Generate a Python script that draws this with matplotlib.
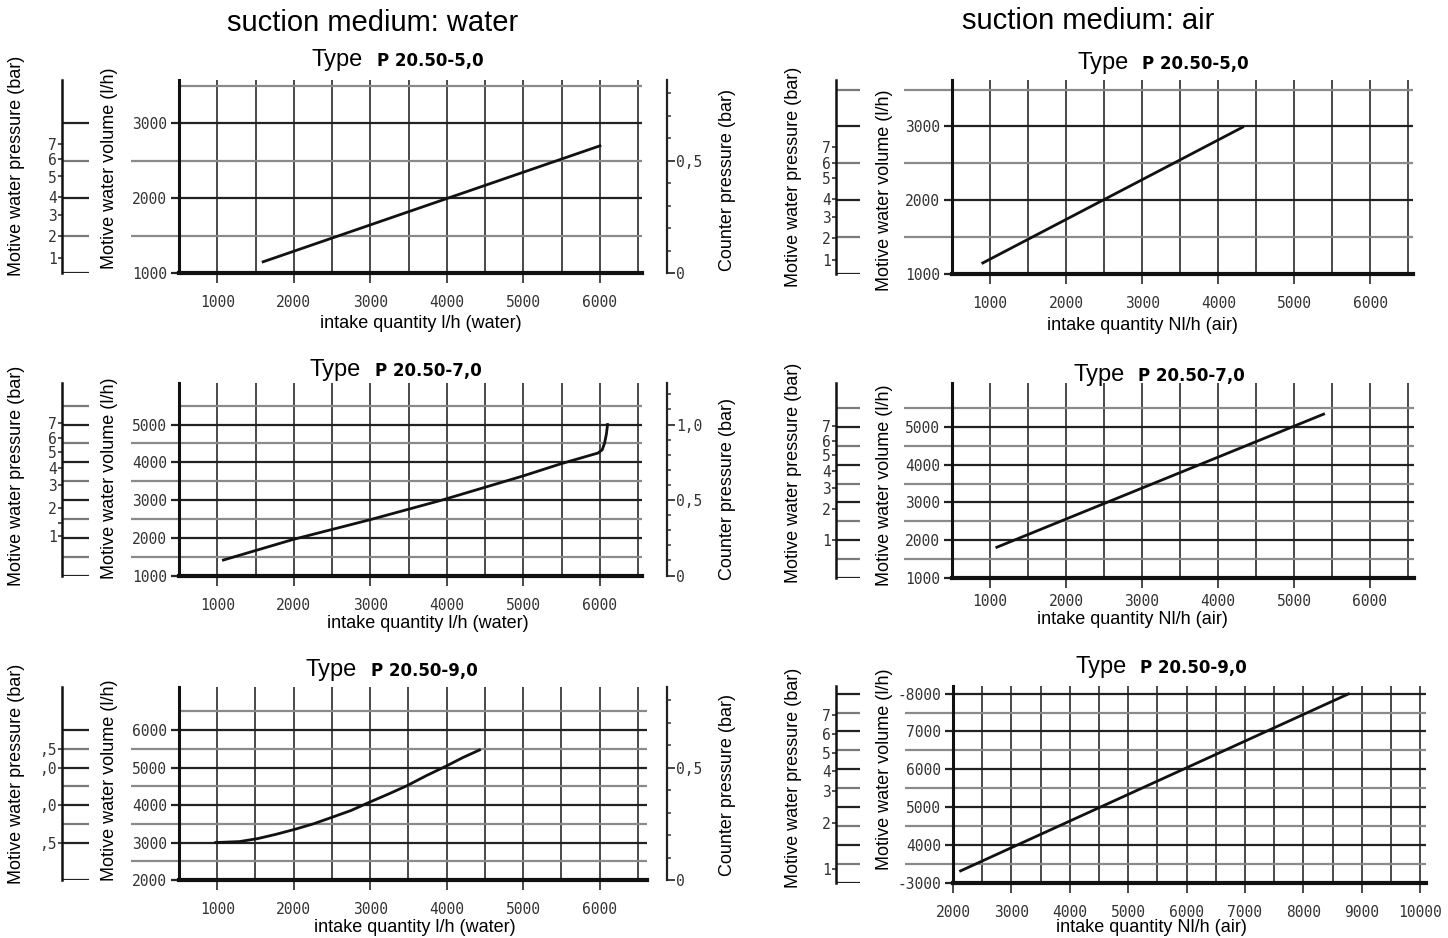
import matplotlib
matplotlib.use("Agg")
import matplotlib.pyplot as plt
import numpy as np
from matplotlib.ticker import FixedLocator

plt.rcParams['font.family'] = ['Liberation Sans', 'DejaVu Sans']

# ---------------------------------------------------------------- data
medium_titles = ["suction medium: water", "suction medium: air"]
type_names = ["P 20.50-5,0", "P 20.50-7,0", "P 20.50-9,0"]
xlabel_water = "intake quantity l/h (water)"
xlabel_air = "intake quantity Nl/h (air)"
label_pressure = "Motive water pressure (bar)"
label_volume = "Motive water volume (l/h)"
label_counter = "Counter pressure (bar)"

# curves: intake quantity vs motive water volume (l/h)
water5_intake = [1600, 6000]
water5_volume = [1150, 2700]
water7_intake = [1080, 2000, 3000, 3940, 5000, 5490, 5975, 6030, 6060, 6085, 6100]
water7_volume = [1410, 1960, 2480, 3000, 3640, 3960, 4245, 4330, 4500, 4750, 5000]
water9_intake = [980, 1290, 1530, 1770, 2010, 2260, 2510, 2750, 2990, 3240,
                 3480, 3730, 4000, 4210, 4430]
water9_volume = [3000, 3025, 3105, 3220, 3350, 3500, 3680, 3855, 4075, 4295,
                 4515, 4780, 5045, 5265, 5470]
air5_intake = [905, 4320]
air5_volume = [1150, 2990]
air7_intake = [1090, 5390]
air7_volume = [1815, 5340]
air9_intake = [2130, 8770]
air9_volume = [3320, 7990]

# x ticks
water_xticks = [1000, 2000, 3000, 4000, 5000, 6000]
air_xticks = [1000, 2000, 3000, 4000, 5000, 6000]
air9_xticks = [2000, 3000, 4000, 5000, 6000, 7000, 8000, 9000, 10000]

# y ticks (motive water volume)
vol5_yticks = [1000, 2000, 3000]
vol7_yticks = [1000, 2000, 3000, 4000, 5000]
water9_yticks = [2000, 3000, 4000, 5000, 6000]
air9_yticks = [3000, 4000, 5000, 6000, 7000, 8000]
air9_yticklabels = ["-3000", "4000", "5000", "6000", "7000", "-8000"]

# motive water pressure scales (label, position on volume scale)
pressure_labels = ["1", "2", "3", "4", "5", "6", "7"]
p5_water_pos = [1200, 1490, 1770, 2020, 2290, 2520, 2730]
p5_air_pos = [1190, 1485, 1770, 2020, 2300, 2505, 2720]
p7_water_pos = [2035, 2380, 2800, 3390, 3840, 4260, 4635, 5030]
p7_water_labels = ["1", "", "2", "3", "4", "5", "6", "7"]
p7_air_pos = [2010, 2830, 3390, 3840, 4255, 4630, 5020]
p9_water_pos = [3000, 4000, 5000, 5500]
p9_water_labels = [",5", ",0", ",0", ",5"]
p9_air_pos = [3380, 4590, 5425, 5955, 6440, 6925, 7435]

# pressure scale stubs (volume levels)
stubs_w5 = [1000, 1500, 2000, 2500, 3000]
stubs_a5 = [1000, 1500, 2000, 2500, 3000, 3500]
stubs_7 = [1000, 1500, 2000, 2500, 3000, 3500, 4000, 4500, 5000, 5500]
stubs_w9 = [2000, 3000, 3500, 4000, 4500, 5000, 5500, 6000]
stubs_a9 = [3000, 3500, 4000, 4500, 5000, 5500, 6000, 6500, 7000, 7500, 8000]

# counter pressure (bar)
counter5_ticks = [0, 0.5]
counter5_labels = ["0", "0,5"]
counter7_ticks = [0, 0.5, 1.0]
counter7_labels = ["0", "0,5", "1,0"]
counter9_ticks = [0, 0.5]
counter9_labels = ["0", "0,5"]

# ---------------------------------------------------------------- layout
W, H = 1448, 938
fig = plt.figure(figsize=(W / 100, H / 100), dpi=100)
fig.patch.set_facecolor('white')
PT = 72 / 100.0
MONO = 'DejaVu Sans Mono'
TICKC = '#333333'
TICKFS = 10.5


def px_axes(x0, x1, ybot, ytop):
    ax = fig.add_axes([x0 / W, 1 - ybot / H, (x1 - x0) / W, (ybot - ytop) / H])
    ax.patch.set_alpha(0)
    return ax


def ftext(x, y, s, **kw):
    fig.text(x / W, 1 - y / H, s, **kw)


def mono(ax):
    for lab in ax.get_xticklabels() + ax.get_yticklabels():
        lab.set_fontfamily(MONO)


def draw_main(xpx, ypx, xlim, ylim, xticks, yticks, yticklabels, top_grid,
              long_top, intake, volume, xpad=12):
    ax = px_axes(xpx[0], xpx[1], ypx[0], ypx[1])
    ax.set_xlim(xlim)
    ax.set_ylim(ylim)
    for s in ['top', 'right']:
        ax.spines[s].set_visible(False)
    ax.spines['left'].set_linewidth(2.2)
    ax.spines['bottom'].set_linewidth(3.0)
    ax.spines['left'].set_color('#111')
    ax.spines['bottom'].set_color('#111')

    ax.set_xticks(xticks)
    ax.set_xticklabels([str(v) for v in xticks])
    start = int(np.ceil(xlim[0] / 500.0) * 500)
    xminor = [v for v in range(start, int(xlim[1]) + 1, 500) if v not in xticks]
    ax.xaxis.set_minor_locator(FixedLocator(xminor))
    ax.grid(axis='x', which='both', color='#2a2a2a', lw=1.2)

    ax.set_yticks(yticks)
    ax.set_yticklabels(yticklabels)
    yall = list(range(int(ylim[0]), int(top_grid) + 1, 500))
    yminor = [v for v in yall if v not in yticks]
    if not long_top and top_grid in yminor:
        yminor.remove(top_grid)
        ax.axhline(top_grid, color='#8a8a8a', lw=1.6)
    ax.yaxis.set_minor_locator(FixedLocator(yminor))
    ax.grid(axis='y', which='major', color='#222222', lw=1.6)
    ax.grid(axis='y', which='minor', color='#8a8a8a', lw=1.6)

    ax.tick_params(axis='x', which='major', length=10 * PT, width=1.2,
                   color='#2a2a2a', pad=xpad * PT, labelsize=TICKFS,
                   labelcolor=TICKC)
    ax.tick_params(axis='x', which='minor', length=0)
    ax.tick_params(axis='y', which='major', length=8 * PT, width=1.6,
                   color='#222222', pad=4 * PT, labelsize=TICKFS,
                   labelcolor=TICKC)
    ax.tick_params(axis='y', which='minor', length=48 * PT, width=1.6,
                   color='#8a8a8a')
    mono(ax)
    ax.set_axisbelow(True)
    ax.plot(intake, volume, color='#111111', lw=2.0, zorder=5,
            solid_joinstyle='round')
    return ax


def draw_pressure(xpx, ypx, ylim, stubs, pos, labels):
    ax = px_axes(xpx[0], xpx[1], ypx[0], ypx[1])
    ax.set_xlim(0, 1)
    ax.set_ylim(ylim)
    for s in ['top', 'right', 'bottom']:
        ax.spines[s].set_visible(False)
    ax.spines['left'].set_linewidth(1.8)
    ax.spines['left'].set_color('#111')
    cols = ['#222222' if v % 1000 == 0 else '#7a7a7a' for v in stubs]
    ax.hlines(stubs, 0, 1, colors=cols, lw=1.6)
    ax.set_xticks([])
    ax.set_yticks(pos)
    ax.set_yticklabels(labels)
    ax.tick_params(axis='y', length=4 * PT, width=1.2, color='#333',
                   pad=1, labelsize=TICKFS, labelcolor=TICKC)
    mono(ax)
    return ax


def draw_counter(xpx, ypx, ylim, vol0, per_bar, ticks, labels):
    ax = px_axes(xpx[0], xpx[1], ypx[0], ypx[1])
    lo = (ylim[0] - vol0) / per_bar
    hi = (ylim[1] - vol0) / per_bar
    ax.set_ylim(lo, hi)
    ax.set_xlim(0, 1)
    for s in ['top', 'left', 'bottom']:
        ax.spines[s].set_visible(False)
    ax.spines['right'].set_linewidth(1.6)
    ax.spines['right'].set_color('#222')
    ax.yaxis.tick_right()
    ax.set_xticks([])
    ax.set_yticks(ticks)
    ax.set_yticklabels(labels)
    minor = [round(v, 1) for v in np.arange(0.1, hi, 0.1)
             if round(v, 1) not in ticks]
    ax.yaxis.set_minor_locator(FixedLocator(minor))
    ax.tick_params(axis='y', which='major', length=8 * PT, width=1.3,
                   color='#333', pad=1, labelsize=TICKFS, labelcolor=TICKC)
    ax.tick_params(axis='y', which='minor', length=4 * PT, width=1.3,
                   color='#555')
    mono(ax)
    return ax


# ---------------------------------------------------------------- panels
LPX = (179, 642)
RPX = (952, 1413)
L_PRESS = (62, 89)
R_PRESS = (836, 860)
COUNTER = (659, 667)

# water panels
w_ypx = [(273, 80), (575.5, 383), (880, 687)]
w_ylim = [(1000, 3580), (1000, 6100), (2000, 7150)]
w_xlim = [(500, 6550), (500, 6550), (500, 6620)]
w_xpx = [LPX, LPX, (179, 647)]

draw_main(w_xpx[0], w_ypx[0], w_xlim[0], w_ylim[0], water_xticks, vol5_yticks,
          [str(v) for v in vol5_yticks], 3500, False, water5_intake, water5_volume)
draw_main(w_xpx[1], w_ypx[1], w_xlim[1], w_ylim[1], water_xticks, vol7_yticks,
          [str(v) for v in vol7_yticks], 5500, False, water7_intake, water7_volume)
draw_main(w_xpx[2], w_ypx[2], w_xlim[2], w_ylim[2], water_xticks, water9_yticks,
          [str(v) for v in water9_yticks], 6500, False, water9_intake, water9_volume)

draw_pressure(L_PRESS, w_ypx[0], w_ylim[0], stubs_w5, p5_water_pos, pressure_labels)
draw_pressure(L_PRESS, w_ypx[1], w_ylim[1], stubs_7, p7_water_pos, p7_water_labels)
draw_pressure(L_PRESS, w_ypx[2], w_ylim[2], stubs_w9, p9_water_pos, p9_water_labels)

draw_counter(COUNTER, w_ypx[0], w_ylim[0], 1000, 3000, counter5_ticks, counter5_labels)
draw_counter(COUNTER, w_ypx[1], w_ylim[1], 1000, 4000, counter7_ticks, counter7_labels)
draw_counter(COUNTER, w_ypx[2], w_ylim[2], 2000, 6000, counter9_ticks, counter9_labels)

# air panels
a_ypx = [(274, 80), (578, 383), (883, 686)]
a_ylim = [(1000, 3630), (1000, 6165), (3000, 8200)]
a_xlim = [(500, 6560), (500, 6580), (2000, 10100)]
a_xpx = [RPX, (952, 1414), (953, 1426)]

draw_main(a_xpx[0], a_ypx[0], a_xlim[0], a_ylim[0], air_xticks, vol5_yticks,
          [str(v) for v in vol5_yticks], 3500, True, air5_intake, air5_volume)
draw_main(a_xpx[1], a_ypx[1], a_xlim[1], a_ylim[1], air_xticks, vol7_yticks,
          [str(v) for v in vol7_yticks], 5500, True, air7_intake, air7_volume,
          xpad=6)
draw_main(a_xpx[2], a_ypx[2], a_xlim[2], a_ylim[2], air9_xticks, air9_yticks,
          air9_yticklabels, 8000, True, air9_intake, air9_volume)

draw_pressure(R_PRESS, a_ypx[0], a_ylim[0], stubs_a5, p5_air_pos, pressure_labels)
draw_pressure(R_PRESS, a_ypx[1], a_ylim[1], stubs_7, p7_air_pos, pressure_labels)
draw_pressure(R_PRESS, a_ypx[2], a_ylim[2], stubs_a9, p9_air_pos, pressure_labels)

# ---------------------------------------------------------------- texts
ftext(373, 23, medium_titles[0], fontsize=21, ha='center', va='center')
ftext(1088, 21, medium_titles[1], fontsize=21, ha='center', va='center')

type_pos_l = [(312, 66), (310, 376), (306, 676)]
type_pos_r = [(1077, 69), (1073, 381), (1075, 673)]
bold_off = 65
for i in range(3):
    for (x, y) in (type_pos_l[i], type_pos_r[i]):
        ftext(x, y, "Type", fontsize=17, ha='left', va='baseline')
        ftext(x + bold_off, y, type_names[i], fontsize=12, fontweight='bold',
              family='DejaVu Sans', ha='left', va='baseline')

lab_kw = dict(fontsize=13, rotation=90, ha='center', va='center')
press_y_l = [166, 476, 774]
vol_y_l = [168, 478, 780]
count_y = [180, 489, 785]
press_y_r = [177, 473, 778]
vol_y_r = [190, 485, 769]
for i in range(3):
    ftext(17, press_y_l[i], label_pressure, **lab_kw)
    ftext(110, vol_y_l[i], label_volume, **lab_kw)
    ftext(727, count_y[i], label_counter, **lab_kw)
    ftext(794, press_y_r[i], label_pressure, **lab_kw)
    ftext(884, vol_y_r[i], label_volume, **lab_kw)

xlab_l = [(421, 323), (428, 624), (415, 927)]
xlab_r = [(1142, 325), (1132, 620), (1151, 927)]
for i in range(3):
    ftext(xlab_l[i][0], xlab_l[i][1], xlabel_water, fontsize=13,
          ha='center', va='center')
    ftext(xlab_r[i][0], xlab_r[i][1], xlabel_air, fontsize=13,
          ha='center', va='center')

fig.savefig('out.png', dpi=100, facecolor='white')
